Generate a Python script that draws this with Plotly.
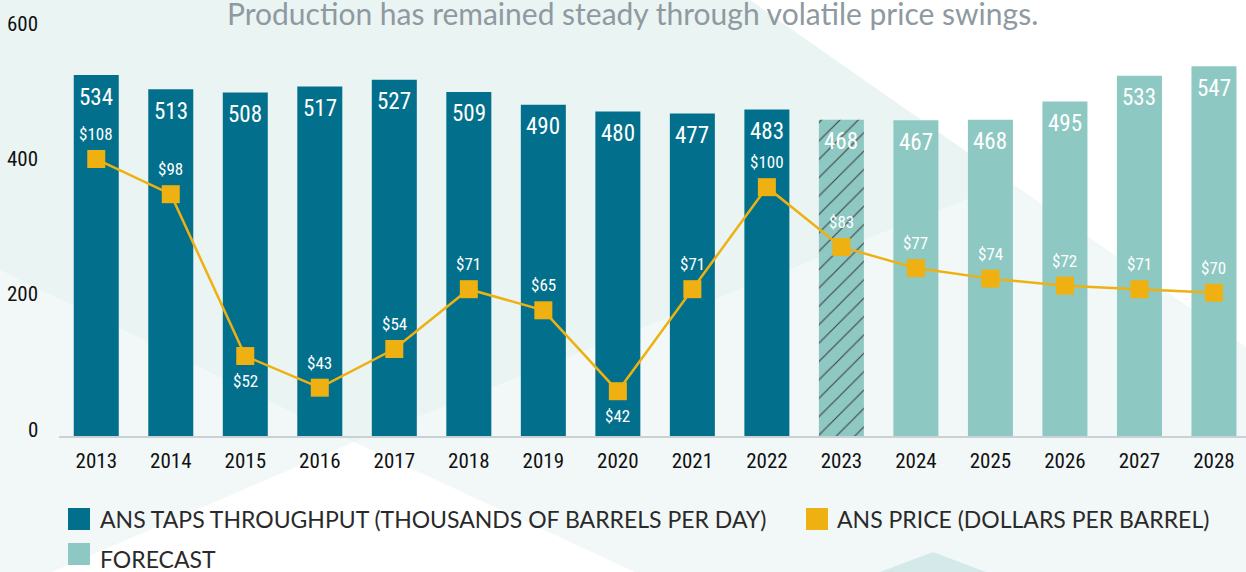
import plotly.graph_objects as go

# ---------------- data ----------------
years = ["2013", "2014", "2015", "2016", "2017", "2018", "2019", "2020",
         "2021", "2022", "2023", "2024", "2025", "2026", "2027", "2028"]
throughput = [534, 513, 508, 517, 527, 509, 490, 480, 477, 483, 468, 467, 468, 495, 533, 547]
price = [108, 98, 52, 43, 54, 71, 65, 42, 71, 100, 83, 77, 74, 72, 71, 70]
status = ["actual"] * 10 + ["estimate"] + ["forecast"] * 5
y_ticks = [0, 200, 400, 600]
price_labels_below = {"2015", "2020"}

title_text = "Production has remained steady through volatile price swings."
legend_items = ["ANS TAPS THROUGHPUT (THOUSANDS OF BARRELS PER DAY)",
                "ANS PRICE (DOLLARS PER BARREL)", "FORECAST"]

# ---------------- style ----------------
DARK = "#02708C"
LIGHT = "#8EC8C2"
GOLD = "#EEB111"
NUM_FONT = "Liberation Sans Narrow, Roboto Condensed, DejaVu Sans Condensed, sans-serif"
TXT_FONT = "Lato, Open Sans, sans-serif"

W, H = 1246, 572
L, R, T, B = 59, 0, 0, 136
PW, PH = W - L - R, H - T - B


def px(x):
    return (x - L) / PW


def py(y):
    return (H - B - y) / PH


bar_colors = [DARK if s == "actual" else LIGHT for s in status]
bar_patterns = ["/" if s == "estimate" else "" for s in status]

fig = go.Figure()
fig.add_trace(go.Bar(
    x=years, y=throughput, width=0.604,
    marker=dict(color=bar_colors, line=dict(width=0),
                pattern=dict(shape=bar_patterns, fgcolor=DARK, fillmode="overlay",
                             fgopacity=1, size=13, solidity=0.09)),
    hoverinfo="x+y", showlegend=False, name=legend_items[0],
))
fig.add_trace(go.Scatter(
    x=years, y=price, yaxis="y2", mode="lines+markers",
    line=dict(color=GOLD, width=2.5),
    marker=dict(symbol="square", size=18, color=GOLD),
    showlegend=False, name=legend_items[1],
))

annotations = []
# bar value labels (category index positions)
for i, v in enumerate(throughput):
    annotations.append(dict(x=i, y=v, xref="x", yref="y", text=str(v), showarrow=False,
                            yshift=-22, yanchor="middle",
                            font=dict(family=NUM_FONT, size=23, color="white")))
# price labels
for i, (yr, p) in enumerate(zip(years, price)):
    shift = -25 if yr in price_labels_below else 25
    annotations.append(dict(x=i, y=p, xref="x", yref="y2", text=f"${p}", showarrow=False,
                            yshift=shift, yanchor="middle",
                            font=dict(family=NUM_FONT, size=17, color="white")))
# y tick labels
for t in y_ticks:
    annotations.append(dict(x=px(40), y=t, xref="paper", yref="y", text=str(t), showarrow=False,
                            xanchor="right", yanchor="middle", yshift=6.5,
                            font=dict(family=NUM_FONT, size=21, color="#111111")))
# title
annotations.append(dict(x=px(632), y=py(33), xref="paper", yref="paper", text=title_text,
                        showarrow=False, xanchor="center", yanchor="bottom",
                        font=dict(family=TXT_FONT, size=30, color="#8E9AA0")))
# legend text
leg_pos = [(98, 519), (835, 519), (98, 559)]
for txt, (lx, ly) in zip(legend_items, leg_pos):
    annotations.append(dict(x=px(lx), y=py(ly), xref="paper", yref="paper", text=txt,
                            showarrow=False, xanchor="left", yanchor="middle",
                            font=dict(family=TXT_FONT, size=23, color="#2A2A2A")))


def poly(points, color):
    path = "M " + " L ".join(f"{px(x)},{py(y)}" for x, y in points) + " Z"
    return dict(type="path", path=path, xref="paper", yref="paper",
                fillcolor=color, line=dict(width=0), layer="below")


shapes = [
    poly([(0, 0), (750, 0), (1010, 182), (354, 442), (0, 270)], "#EAF4F3"),
    poly([(750, 0), (1246, 0), (1246, 347)], "#FFFFFF"),
    poly([(52, 572), (354, 442), (635, 572)], "#FFFFFF"),
    poly([(880, 572), (933, 552), (986, 572)], "#D5E9EA"),
]
# legend swatches
for (sx, sy), c in zip([(68, 508), (806, 508), (68, 543)], [DARK, GOLD, LIGHT]):
    shapes.append(dict(type="rect", xref="paper", yref="paper",
                       x0=px(sx), x1=px(sx + 22), y0=py(sy), y1=py(sy + 22),
                       fillcolor=c, line=dict(width=0), layer="above"))

fig.update_layout(
    width=W, height=H, margin=dict(l=L, r=R, t=T, b=B, pad=0),
    paper_bgcolor="#F2F8F8", plot_bgcolor="rgba(0,0,0,0)",
    bargap=0.4,
    xaxis=dict(type="category", range=[-0.5, 15.43], showgrid=False, zeroline=False,
               showline=True, linecolor="#C9D1D4", linewidth=2, ticks="",
               ticklabelstandoff=5,
               tickfont=dict(family=NUM_FONT, size=21, color="#111111")),
    yaxis=dict(range=[0, 645], showgrid=False, zeroline=False, showticklabels=False,
               showline=False),
    yaxis2=dict(range=[29.27, 153.2], overlaying="y", visible=False),
    annotations=annotations, shapes=shapes,
)

fig.write_html("out.html", config={"displayModeBar": False},
               post_script="document.body.style.margin='0';document.body.style.overflow='hidden';")
